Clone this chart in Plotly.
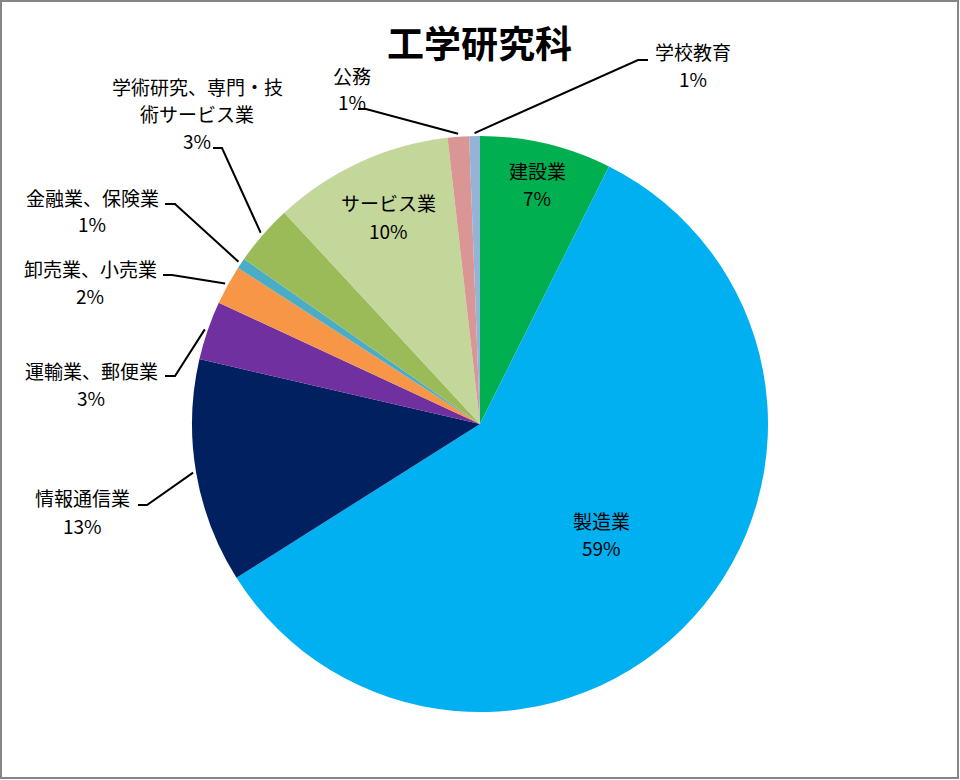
import math
import plotly.graph_objects as go

# Data (share of graduates, %)
categories = ['建設業', '製造業', '情報通信業', '運輸業、郵便業', '卸売業、小売業',
              '金融業、保険業', '学術研究、専門・技術サービス業', 'サービス業', '公務', '学校教育']
shares = [7.4, 58.7, 12.6, 3.3, 2.2, 0.6, 3.4, 10.1, 1.2, 0.6]
colors = ['#00B050', '#00B0F0', '#002060', '#7030A0', '#F79646',
          '#4BACC6', '#9BBB59', '#C4D79B', '#DA9694', '#95B3D7']

W, H = 960, 780
CX, CY, R = 480, 424, 288  # pie centre and radius in pixels

# label placement (pixels): centre x, first line y, and optional leader tick (x_from, x_to, y)
label_layout = {
    '建設業': dict(x=537, y=170),
    '製造業': dict(x=601, y=520),
    'サービス業': dict(x=388, y=203),
    '情報通信業': dict(x=82, y=498, tick=(138, 147, 505)),
    '運輸業、郵便業': dict(x=91, y=370, tick=(165, 175, 376)),
    '卸売業、小売業': dict(x=90, y=268, tick=(163, 172, 275)),
    '金融業、保険業': dict(x=92, y=197, tick=(165, 175, 204)),
    '学術研究、専門・技術サービス業': dict(x=197, y=86, tick=(213, 222, 148),
                                 lines=['学術研究、専門・技', '術サービス業']),
    '公務': dict(x=352, y=75, tick=(358, 366, 109)),
    '学校教育': dict(x=693, y=52, tick=(648, 638, 60)),
}
LINE_GAP = 27
FONT = 'Noto Sans CJK JP'


def px(x):
    return x / W


def py(y):
    return 1 - y / H


fig = go.Figure()

fig.add_trace(go.Pie(
    labels=categories,
    values=shares,
    sort=False,
    direction='clockwise',
    rotation=0,
    textinfo='none',
    hoverinfo='label+percent',
    marker=dict(colors=colors, line=dict(width=0)),
    domain=dict(x=[px(CX - R), px(CX + R)], y=[py(CY + R), py(CY - R)]),
    showlegend=False,
))

total = sum(shares)
annotations = []
shapes = []
start = 0.0
for name, value in zip(categories, shares):
    pct = f"{round(value / total * 100)}%"
    mid = math.radians((start + value / 2) / total * 360)
    start += value
    lay = label_layout[name]
    lines = lay.get('lines', [name]) + [pct]
    for i, text in enumerate(lines):
        annotations.append(dict(
            x=px(lay['x']), y=py(lay['y'] + i * LINE_GAP),
            xref='paper', yref='paper', text=text, showarrow=False,
            xanchor='center', yanchor='middle',
            font=dict(family=FONT, size=19, color='#000000'),
        ))
    if 'tick' in lay:
        x0, x1, ty = lay['tick']
        ax = CX + (R + 3) * math.sin(mid)
        ay = CY - (R + 3) * math.cos(mid)
        shapes.append(dict(
            type='path', xref='paper', yref='paper',
            path=f"M {px(x0)},{py(ty)} L {px(x1)},{py(ty)} L {px(ax)},{py(ay)}",
            line=dict(color='#000000', width=2),
        ))

# chart title
annotations.append(dict(
    x=px(479), y=py(42), xref='paper', yref='paper', text='<b>工学研究科</b>',
    showarrow=False, xanchor='center', yanchor='middle',
    font=dict(family=FONT, size=37, color='#000000'),
))

# chart area border
shapes.append(dict(
    type='rect', xref='paper', yref='paper',
    x0=px(1), x1=px(958), y0=py(778), y1=py(1),
    line=dict(color='#868686', width=2),
))

fig.update_layout(
    width=W,
    height=H,
    margin=dict(l=0, r=0, t=0, b=0),
    paper_bgcolor='white',
    plot_bgcolor='white',
    annotations=annotations,
    shapes=shapes,
)

# drop the default page margin so the chart sits at the window's top-left corner
fig.write_html("out.html",
               config={'displayModeBar': False},
               post_script="document.body.style.margin='0';document.body.style.overflow='hidden';")
